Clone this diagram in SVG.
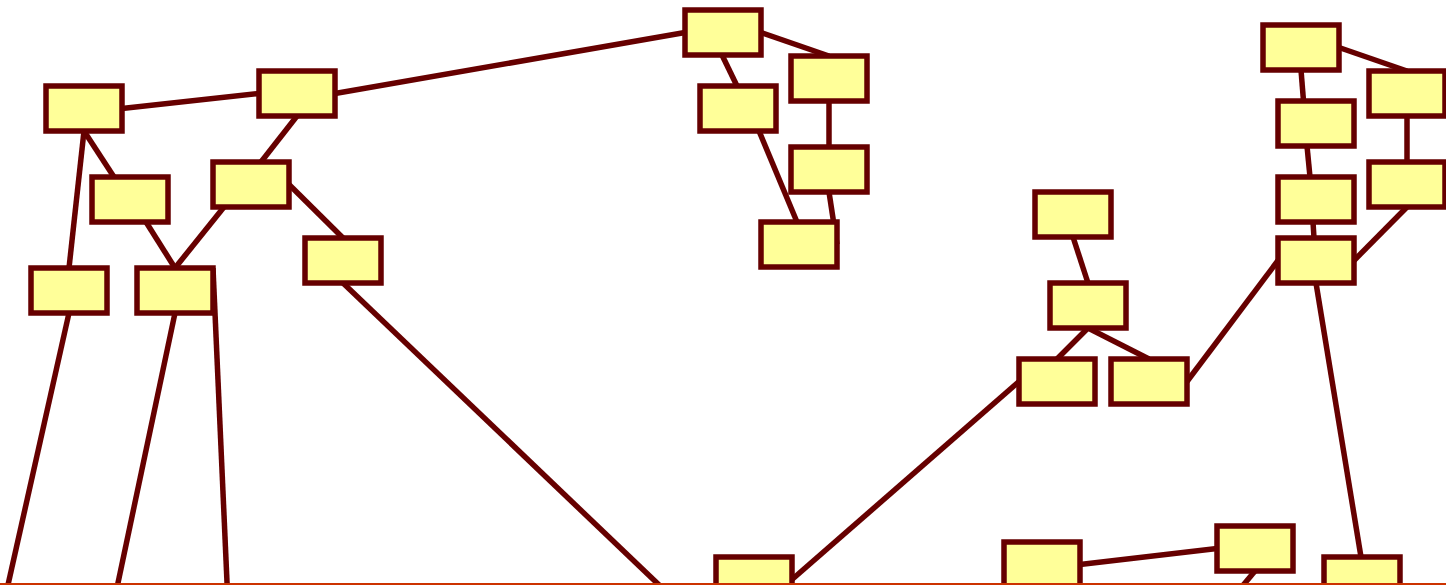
<svg xmlns="http://www.w3.org/2000/svg" width="1446" height="585" viewBox="0 0 1446 585">
<style>
.n{fill:#FFFF99;stroke:#660000;stroke-width:5.5}
.e{stroke:#660000;stroke-width:5.5;fill:none}
</style>
<rect x="0" y="0" width="1446" height="585" fill="#FFFFFF"/>
<g id="connectors">
<line class="e" x1="122" y1="108.5" x2="259" y2="93.5"/>
<line class="e" x1="335" y1="93.5" x2="685" y2="32.5"/>
<line class="e" x1="297" y1="116" x2="261" y2="162"/>
<line class="e" x1="84" y1="131" x2="114" y2="177"/>
<line class="e" x1="84" y1="131" x2="69" y2="268"/>
<line class="e" x1="146" y1="222" x2="175" y2="268"/>
<line class="e" x1="224" y1="207" x2="175" y2="268"/>
<line class="e" x1="289" y1="184.5" x2="343" y2="238"/>
<line class="e" x1="69" y1="313" x2="4.6" y2="600"/>
<line class="e" x1="175" y1="313" x2="114.4" y2="600"/>
<line class="e" x1="213" y1="268" x2="227.8" y2="600"/>
<line class="e" x1="343" y1="283" x2="674.8" y2="600"/>
<line class="e" x1="761" y1="32.5" x2="829" y2="56"/>
<line class="e" x1="722" y1="55" x2="737" y2="86"/>
<line class="e" x1="829" y1="101" x2="829" y2="147"/>
<line class="e" x1="759" y1="131" x2="797" y2="222"/>
<line class="e" x1="829" y1="192" x2="837" y2="244.5"/>
<line class="e" x1="1073" y1="237" x2="1088" y2="283"/>
<line class="e" x1="1088" y1="328" x2="1057" y2="359"/>
<line class="e" x1="1088" y1="328" x2="1149" y2="359"/>
<line class="e" x1="1019" y1="381.5" x2="792" y2="579.5"/>
<line class="e" x1="1187" y1="381.5" x2="1278" y2="260.5"/>
<line class="e" x1="1339" y1="47.5" x2="1407" y2="71"/>
<line class="e" x1="1301" y1="70" x2="1303.5" y2="101"/>
<line class="e" x1="1307" y1="146" x2="1310" y2="177"/>
<line class="e" x1="1313" y1="222" x2="1314" y2="238"/>
<line class="e" x1="1407" y1="207" x2="1354" y2="260.5"/>
<line class="e" x1="1316" y1="283" x2="1361" y2="557"/>
<line class="e" x1="1407" y1="116" x2="1407" y2="162"/>
<line class="e" x1="1080" y1="564.5" x2="1217" y2="548.5"/>
<line class="e" x1="1255" y1="571" x2="1230.8" y2="600"/>
</g>
<g id="nA"><rect class="n" x="46" y="86" width="76" height="45"/></g>
<g id="nB"><rect class="n" x="259" y="71" width="76" height="45"/></g>
<g id="nC"><rect class="n" x="685" y="10" width="76" height="45"/></g>
<g id="nD"><rect class="n" x="791" y="56" width="76" height="45"/></g>
<g id="nE"><rect class="n" x="700" y="86" width="76" height="45"/></g>
<g id="nF"><rect class="n" x="791" y="147" width="76" height="45"/></g>
<g id="nG"><rect class="n" x="761" y="222" width="76" height="45"/></g>
<g id="nH"><rect class="n" x="92" y="177" width="76" height="45"/></g>
<g id="nI"><rect class="n" x="213" y="162" width="76" height="45"/></g>
<g id="nJ"><rect class="n" x="305" y="238" width="76" height="45"/></g>
<g id="nK"><rect class="n" x="31" y="268" width="76" height="45"/></g>
<g id="nL"><rect class="n" x="137" y="268" width="76" height="45"/></g>
<g id="nM"><rect class="n" x="1263" y="25" width="76" height="45"/></g>
<g id="nN"><rect class="n" x="1369" y="71" width="76" height="45"/></g>
<g id="nO"><rect class="n" x="1278" y="101" width="76" height="45"/></g>
<g id="nP"><rect class="n" x="1369" y="162" width="76" height="45"/></g>
<g id="nQ"><rect class="n" x="1278" y="177" width="76" height="45"/></g>
<g id="nR"><rect class="n" x="1278" y="238" width="76" height="45"/></g>
<g id="nS"><rect class="n" x="1035" y="192" width="76" height="45"/></g>
<g id="nT"><rect class="n" x="1050" y="283" width="76" height="45"/></g>
<g id="nU"><rect class="n" x="1019" y="359" width="76" height="45"/></g>
<g id="nV"><rect class="n" x="1111" y="359" width="76" height="45"/></g>
<g id="nW"><rect class="n" x="716" y="557" width="76" height="45"/></g>
<g id="nX"><rect class="n" x="1004" y="542" width="76" height="45"/></g>
<g id="nY"><rect class="n" x="1217" y="526" width="76" height="45"/></g>
<g id="nZ"><rect class="n" x="1324" y="557" width="76" height="45"/></g>
<rect x="0" y="583" width="1446" height="2" fill="#CC3300"/>
</svg>
